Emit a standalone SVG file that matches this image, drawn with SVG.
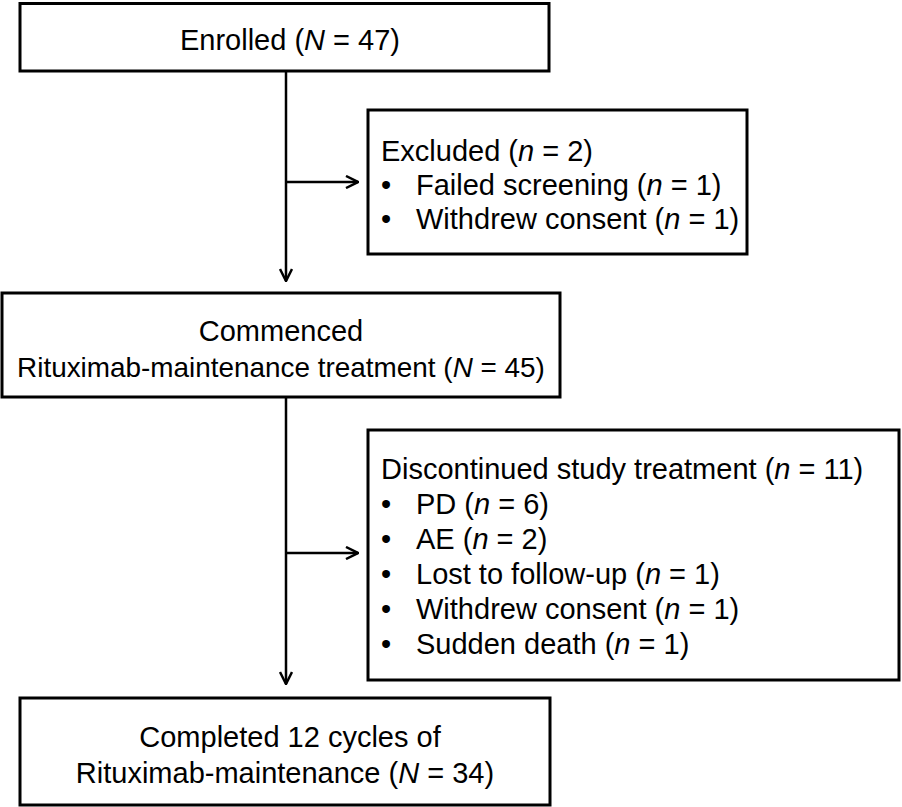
<svg xmlns="http://www.w3.org/2000/svg" width="902" height="807" viewBox="0 0 902 807">
<style>
.box{fill:#fff;stroke:#000;stroke-width:3}
.t{font-family:"Liberation Sans",Arial,sans-serif;font-size:29px;fill:#000}
.c{text-anchor:middle}
.ln{stroke:#000;stroke-width:2.5;fill:none}
</style>
<defs>
<marker id="ah" viewBox="0 0 14 14" refX="13" refY="7" markerWidth="14" markerHeight="14" markerUnits="userSpaceOnUse" orient="auto">
<path d="M1,1 L13,7 L1,13" fill="none" stroke="#000" stroke-width="2.5"/>
</marker>
</defs>
<rect width="902" height="807" fill="#fff"/>
<g id="connectors">
<line class="ln" x1="286" y1="71" x2="286" y2="281" marker-end="url(#ah)"/>
<line class="ln" x1="286" y1="182" x2="358" y2="182" marker-end="url(#ah)"/>
<line class="ln" x1="286" y1="397" x2="286" y2="684" marker-end="url(#ah)"/>
<line class="ln" x1="286" y1="553" x2="358" y2="553" marker-end="url(#ah)"/>
</g>
<g id="enrolled">
<rect class="box" x="20" y="3.5" width="529" height="67.5"/>
<text class="t c" x="290" y="50">Enrolled (<tspan font-style="italic">N</tspan> = 47)</text>
</g>
<g id="excluded">
<rect class="box" x="368" y="110" width="379" height="144"/>
<text class="t" x="381" y="161">Excluded (<tspan font-style="italic">n</tspan> = 2)</text>
<text class="t" x="381" y="195">•</text><text class="t" x="416" y="195">Failed screening (<tspan font-style="italic">n</tspan> = 1)</text>
<text class="t" x="381" y="229">•</text><text class="t" x="416" y="229">Withdrew consent (<tspan font-style="italic">n</tspan> = 1)</text>
</g>
<g id="commenced">
<rect class="box" x="2" y="293" width="558" height="104"/>
<text class="t c" x="281" y="341">Commenced</text>
<text class="t c" x="281" y="377" style="font-size:27.9px">Rituximab-maintenance treatment (<tspan font-style="italic">N</tspan> = 45)</text>
</g>
<g id="discontinued">
<rect class="box" x="368" y="430" width="531" height="250"/>
<text class="t" x="381" y="479">Discontinued study treatment (<tspan font-style="italic">n</tspan> = 11)</text>
<text class="t" x="381" y="514">•</text><text class="t" x="416" y="514">PD (<tspan font-style="italic">n</tspan> = 6)</text>
<text class="t" x="381" y="549">•</text><text class="t" x="416" y="549">AE (<tspan font-style="italic">n</tspan> = 2)</text>
<text class="t" x="381" y="584">•</text><text class="t" x="416" y="584">Lost to follow-up (<tspan font-style="italic">n</tspan> = 1)</text>
<text class="t" x="381" y="619">•</text><text class="t" x="416" y="619">Withdrew consent (<tspan font-style="italic">n</tspan> = 1)</text>
<text class="t" x="381" y="654">•</text><text class="t" x="416" y="654">Sudden death (<tspan font-style="italic">n</tspan> = 1)</text>
</g>
<g id="completed">
<rect class="box" x="20" y="698" width="530" height="107"/>
<text class="t c" x="290" y="747">Completed 12 cycles of</text>
<text class="t c" x="285" y="783">Rituximab-maintenance (<tspan font-style="italic">N</tspan> = 34)</text>
</g>
</svg>
